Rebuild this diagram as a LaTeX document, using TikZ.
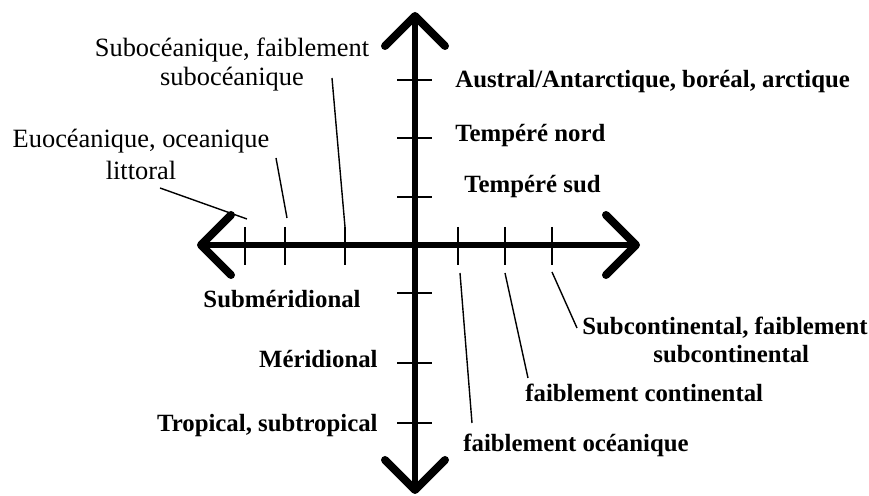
\documentclass[tikz,border=0pt]{standalone}
\usepackage{fontspec}
\setmainfont{Liberation Serif}
\usetikzlibrary{arrows.meta}
\tikzset{
  barb/.tip={Straight Barb[length=15pt,width=30pt,line width=4pt,round]},
  axe/.style={line width=3pt,barb-barb},
  grad/.style={line width=0.6pt},
  lead/.style={line width=0.7pt},
  lbl/.style={font=\fontsize{12.4}{14}\selectfont\bfseries,inner sep=0pt},
  lblr/.style={font=\fontsize{13.2}{14.5}\selectfont,inner sep=0pt},
}
\begin{document}
\begin{tikzpicture}[x=0.5pt,y=-0.5pt]
  \useasboundingbox (0,0) rectangle (869,496);
  % axes
  \coordinate (nord) at (415,12);
  \coordinate (sud) at (415,494);
  \coordinate (ouest) at (197,245);
  \coordinate (est) at (640,245);
  \draw[axe] (sud) -- (nord);
  \draw[axe] (ouest) -- (est);
  % graduations
  \foreach \y in {80,138,197,293,363,423} \draw[grad] (397,\y) -- (432,\y);
  \foreach \x in {245,285,345,458,505,552} \draw[grad] (\x,227) -- (\x,265);
  % labels, vertical axis
  \node[lbl,anchor=base west] (austral) at (455,88) {Austral/Antarctique, boréal, arctique};
  \node[lbl,anchor=base west] (tnord) at (455,142) {Tempéré nord};
  \node[lbl,anchor=base west] (tsud) at (464,193) {Tempéré sud};
  \node[lbl,anchor=base east] (submer) at (361,308) {Subméridional};
  \node[lbl,anchor=base east] (merid) at (378,368) {Méridional};
  \node[lbl,anchor=base east] (tropic) at (378,432) {Tropical, subtropical};
  % labels, horizontal axis (base = last line)
  \node[lblr,anchor=base,align=center] (subo) at (232,86) {Subocéanique, faiblement\\subocéanique};
  \node[lblr,anchor=base,align=center] (euo) at (141,180) {Euocéanique, oceanique\\[1.5pt]littoral};
  \node[lbl,anchor=base west,align=left] (subcont) at (582,363) {Subcontinental, faiblement\\\hspace*{35.5pt}subcontinental};
  \node[lbl,anchor=base west] (fcont) at (525,402) {faiblement continental};
  \node[lbl,anchor=base west] (focea) at (463,452) {faiblement océanique};
  % leaders
  \coordinate (euo-a) at (160,188);  \coordinate (euo-b) at (247,219);
  \coordinate (oce-a) at (276,158);  \coordinate (oce-b) at (287,218);
  \coordinate (subo-a) at (332,78);  \coordinate (subo-b) at (345,227);
  \coordinate (focea-a) at (460,273); \coordinate (focea-b) at (472,423);
  \coordinate (fcont-a) at (505,273); \coordinate (fcont-b) at (528,378);
  \coordinate (subc-a) at (552,272); \coordinate (subc-b) at (577,328);
  \draw[lead] (euo-a) -- (euo-b);
  \draw[lead] (oce-a) -- (oce-b);
  \draw[lead] (subo-a) -- (subo-b);
  \draw[lead] (focea-a) -- (focea-b);
  \draw[lead] (fcont-a) -- (fcont-b);
  \draw[lead] (subc-a) -- (subc-b);
\end{tikzpicture}
\end{document}
